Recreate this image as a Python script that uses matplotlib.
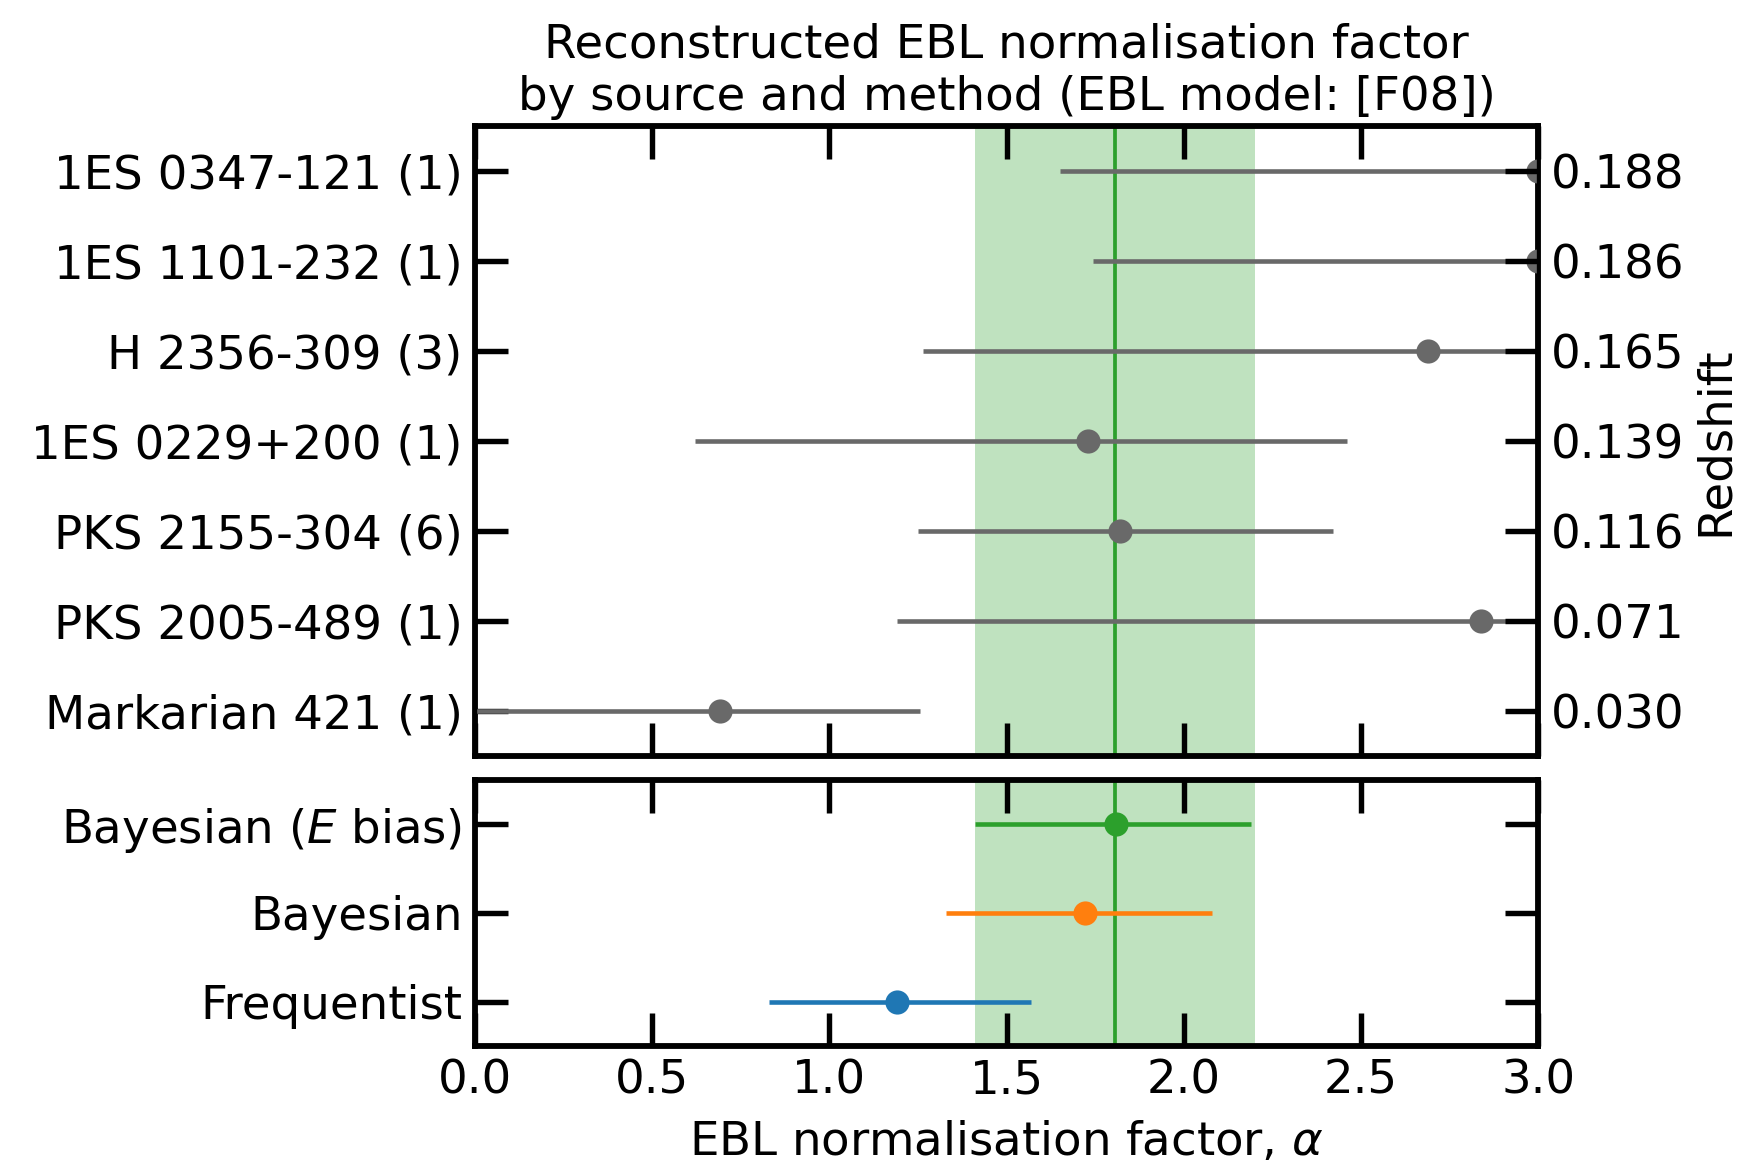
import numpy as np
import matplotlib
matplotlib.use("Agg")
import matplotlib.pyplot as plt

# sources (bottom to top)
sources = ['Markarian 421 (1)', 'PKS 2005-489 (1)', 'PKS 2155-304 (6)',
           '1ES 0229+200 (1)', 'H 2356-309 (3)', '1ES 1101-232 (1)',
           '1ES 0347-121 (1)']
redshifts = ['0.030', '0.071', '0.116', '0.139', '0.165', '0.186', '0.188']
src_alpha = [0.69, 2.84, 1.82, 1.73, 2.69, 3.0, 3.0]
src_low = [-0.3, 1.19, 1.25, 0.62, 1.265, 1.745, 1.65]
src_high = [1.255, 3.6, 2.42, 2.46, 3.6, 3.6, 3.6]

# methods (bottom to top)
methods = ['Frequentist', 'Bayesian', 'Bayesian ($E$ bias)']
meth_alpha = [1.19, 1.72, 1.81]
meth_low = [0.83, 1.33, 1.41]
meth_high = [1.57, 2.08, 2.19]
meth_colors = ['tab:blue', 'tab:orange', 'tab:green']

band_low, band_high, band_mid = 1.41, 2.20, 1.805
xticks = [0.0, 0.5, 1.0, 1.5, 2.0, 2.5, 3.0]

plt.rcParams['font.family'] = ['DejaVu Sans']
plt.rcParams['font.size'] = 11.2
plt.rcParams['mathtext.fontset'] = 'dejavusans'

fig = plt.figure(figsize=(5.8, 1169 / 300), dpi=300)
ax1 = fig.add_axes([0.273, 0.353, 0.611, 0.539])
ax2 = fig.add_axes([0.273, 0.105, 0.611, 0.228])

tick_kw = dict(direction='in', length=8, width=1.3, pad=3)

for ax in (ax1, ax2):
    ax.axvspan(band_low, band_high, color='tab:green', alpha=0.3, lw=0, zorder=0)
    ax.axvline(band_mid, color='tab:green', lw=0.9, zorder=1)
    ax.set_xlim(0, 3)
    ax.set_xticks(xticks)
    ax.tick_params(axis='both', top=True, bottom=True, left=True, right=True, **tick_kw)
    for s in ax.spines.values():
        s.set_linewidth(1.4)

ys = np.arange(len(sources))
a = np.array(src_alpha)
err = [a - np.array(src_low), np.array(src_high) - a]
ax1.errorbar(a, ys, xerr=err, fmt='o', color='dimgray', ms=4.8, lw=1.1,
             capsize=0, zorder=3)
ax1.set_ylim(-0.5, len(sources) - 0.5)
ax1.set_yticks(ys)
ax1.set_yticklabels(sources)
ax1.tick_params(labelbottom=False)
ax1r = ax1.twinx()
ax1r.set_ylim(ax1.get_ylim())
ax1r.set_yticks(ys)
ax1r.set_yticklabels(redshifts)
ax1r.tick_params(axis='y', **tick_kw)
ax1r.set_ylabel('Redshift', labelpad=2)
ax1.set_title('Reconstructed EBL normalisation factor\nby source and method (EBL model: [F08])',
              fontsize=11.2, pad=4, linespacing=1.2)

ym = np.arange(len(methods))
for i in range(len(methods)):
    ax2.errorbar(meth_alpha[i], ym[i],
                 xerr=[[meth_alpha[i] - meth_low[i]], [meth_high[i] - meth_alpha[i]]],
                 fmt='o', color=meth_colors[i], ms=4.8, lw=1.1, capsize=0, zorder=3)
ax2.set_ylim(-0.5, len(methods) - 0.5)
ax2.set_yticks(ym)
ax2.set_yticklabels(methods)
ax2.set_xticklabels([f'{t:.1f}' for t in xticks])
ax2.set_xlabel(r'EBL normalisation factor, $\alpha$')

fig.savefig('out.png', dpi=300)
